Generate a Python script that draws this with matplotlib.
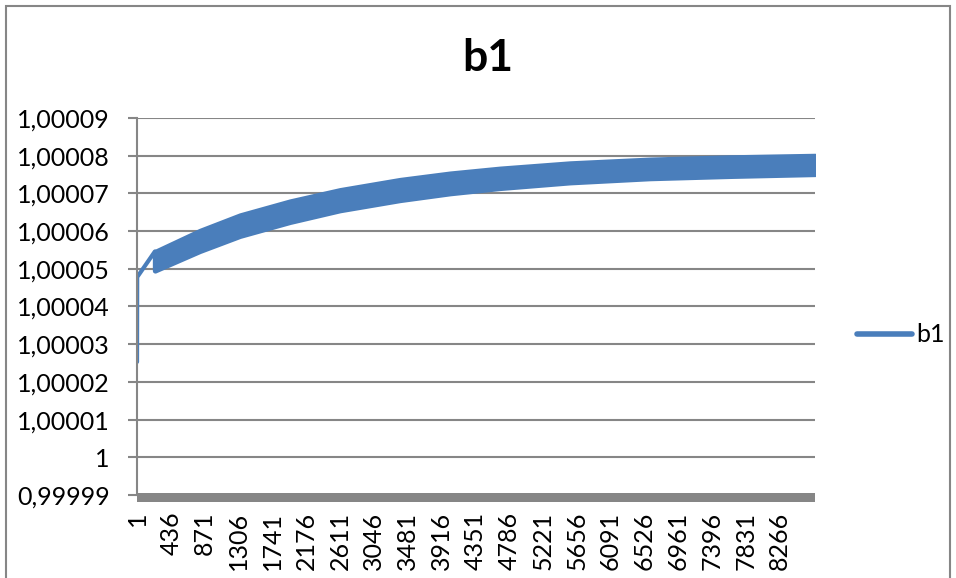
import matplotlib
matplotlib.use("Agg")
import matplotlib.pyplot as plt
from matplotlib.patches import Rectangle

plt.rcParams['font.family'] = ['Lato', 'DejaVu Sans']

# ----------------------------------------------------------------------
# data
# ----------------------------------------------------------------------
N_CATEGORIES = 8720
SERIES_NAME = "b1"

# single line at the start, before the oscillation begins
start_cat = [1, 3, 231, 231]
start_val = [1.0000253, 1.0000478, 1.0000546, 1.0000494]

# envelope of the rapidly alternating series
band_cat = [231, 810, 1325, 1968, 2611, 3383, 4026, 4669, 5569, 6598, 7627, 8720]
band_upper = [1.0000546, 1.0000602, 1.0000643, 1.0000680, 1.0000710, 1.0000737,
              1.0000754, 1.0000767, 1.0000781, 1.0000791, 1.0000797, 1.0000801]
band_lower = [1.0000494, 1.0000546, 1.0000586, 1.0000623, 1.0000654, 1.0000681,
              1.0000699, 1.0000713, 1.0000728, 1.0000739, 1.0000745, 1.0000750]

y_ticks = [0.99999, 1.0, 1.00001, 1.00002, 1.00003, 1.00004, 1.00005,
           1.00006, 1.00007, 1.00008, 1.00009]
y_labels = ["0,99999", "1", "1,00001", "1,00002", "1,00003", "1,00004",
            "1,00005", "1,00006", "1,00007", "1,00008", "1,00009"]
x_ticks = list(range(1, 8267, 435))

# ----------------------------------------------------------------------
# plot
# ----------------------------------------------------------------------
BLUE = "#4a7ebb"
GRID = "#868686"

fig = plt.figure(figsize=(9.56, 5.78), dpi=100)
ax = fig.add_axes([137 / 956, (578 - 495) / 578, (815 - 137) / 956, (495 - 118) / 578])

ax.plot(start_cat, start_val, color=BLUE, lw=3, solid_capstyle='round',
        solid_joinstyle='round', label=SERIES_NAME)
ax.fill_between(band_cat, band_lower, band_upper, facecolor=BLUE,
                edgecolor=BLUE, lw=3, joinstyle='round')

ax.set_xlim(0.5, N_CATEGORIES + 0.5)
ax.set_ylim(0.99999, 1.00009)
ax.set_yticks(y_ticks)
ax.set_yticklabels(y_labels)
ax.set_xticks(x_ticks)
ax.set_xticklabels([str(t) for t in x_ticks], rotation=90)

ax.grid(axis='y', color=GRID, lw=1.5)
ax.set_axisbelow(True)
for s in ['top', 'right', 'bottom']:
    ax.spines[s].set_visible(False)
ax.spines['left'].set_color(GRID)
ax.spines['left'].set_linewidth(1.5)
ax.tick_params(axis='y', length=6.5, width=1.5, color=GRID, pad=13, labelsize=18)
ax.tick_params(axis='x', length=0, pad=12, labelsize=18)

# thick category axis (merged tick marks)
ax.add_patch(Rectangle((0, -7 / 377), 1, 9 / 377, transform=ax.transAxes,
                       facecolor=GRID, edgecolor='none', clip_on=False, zorder=3))

fig.text(488 / 956, 1 - 58 / 578, "b1", ha='center', va='center',
         fontsize=32, fontweight='bold')

leg = ax.legend(loc='center left', bbox_to_anchor=(847 / 956, 1 - 335 / 578),
                bbox_transform=fig.transFigure, frameon=False, fontsize=18,
                handlelength=2.2, handletextpad=0.15, borderaxespad=0)
for h in leg.get_lines():
    h.set_linewidth(4)
    h.set_solid_capstyle('round')

# chart border
fig.patches.append(Rectangle((6 / 956, -0.01), 944 / 956, 1 - 6 / 578 + 0.01,
                             transform=fig.transFigure, fill=False,
                             edgecolor=GRID, lw=1.5))

fig.savefig("out.png", dpi=100)
